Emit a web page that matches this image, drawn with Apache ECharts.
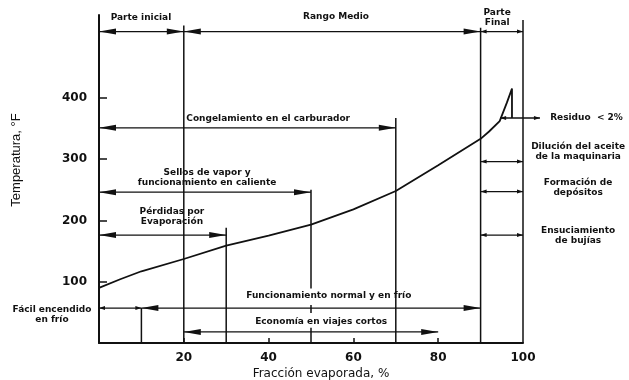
<!DOCTYPE html>
<html>
<head>
<meta charset="utf-8">
<script src="https://cdn.jsdelivr.net/npm/echarts@6/dist/echarts.min.js"></script>
<style>
  html, body { margin: 0; background: #fff; }
  #chart { width: 629px; height: 380px; }
</style>
</head>
<body>
<div id="chart"></div>
<script>
// curva de destilacion (fraccion evaporada %, temperatura F)
const fraccion = [0, 5, 10, 20, 30, 40, 50, 60, 70, 80, 90, 92, 94.5, 96.2, 97.4, 97.4];
const temperatura = [90, 104, 117, 137, 159, 175, 193, 218, 248, 290, 333, 345, 362, 392, 415, 367];

const xTicks = [20, 40, 60, 80];
const xTickLabels = [20, 40, 60, 80, 100];
const yTicks = [100, 200, 300, 400];

// flechas horizontales: desde %, hasta %, temperatura
const flechaDesde = [0, 20, 90, 0, 0, 0, 0, 10, 20, 90, 90, 90, 94.6];
const flechaHasta = [20, 90, 100, 70, 50, 30, 10, 90, 80, 100, 100, 100, 104];
const flechaTemp = [508, 508, 508, 351, 246, 176, 57, 57, 18, 296, 247, 176, 367];
const puntaGrande = [1, 1, 0, 1, 1, 1, 0, 1, 1, 0, 0, 0, 0];

// lineas verticales: %, desde temp, hasta temp
const verticalX = [20, 90, 100, 70, 50, 50, 50, 30, 10];
const verticalDesde = [0, 0, 0, 0, 89, 49, 0, 0, 0];
const verticalHasta = [518, 514, 527, 367, 250, 62, 25, 188, 57];

// textos de las zonas
const textos = [
  'Parte inicial',
  'Rango Medio',
  'Parte\nFinal',
  'Congelamiento en el carburador',
  'Sellos de vapor y\nfuncionamiento en caliente',
  'Pérdidas por\nEvaporación',
  'Funcionamiento normal y en frío',
  'Economía en viajes cortos',
  'Fácil encendido\nen frío',
  'Residuo  < 2%',
  'Dilución del aceite\nde la maquinaria',
  'Formación de\ndepósitos',
  'Ensuciamiento\nde bujías'
];
const textoX = [9.9, 55.9, 93.9, 39.9, 25.5, 17.2, 54.2, 52.4, -11.1, 106.4, 113, 113, 113];
const textoT = [531, 533, 531, 366, 269, 206, 77, 34, 47, 367, 312, 253, 175];

const INK = '#111';
const FONT = 'bold 9px "DejaVu Sans", sans-serif';

const chart = echarts.init(document.getElementById('chart'));

function renderFlecha(params, api) {
  const a = api.coord([api.value(0), api.value(2)]);
  const b = api.coord([api.value(1), api.value(2)]);
  const big = puntaGrande[params.dataIndex];
  const L = big ? 17 : 6, W = big ? 6 : 4;
  return {
    type: 'group',
    children: [
      { type: 'line', shape: { x1: a[0], y1: a[1], x2: b[0], y2: b[1] }, style: { stroke: INK, lineWidth: 1.3 } },
      { type: 'polygon', shape: { points: [[a[0], a[1]], [a[0] + L, a[1] - W / 2], [a[0] + L, a[1] + W / 2]] }, style: { fill: INK } },
      { type: 'polygon', shape: { points: [[b[0], b[1]], [b[0] - L, b[1] - W / 2], [b[0] - L, b[1] + W / 2]] }, style: { fill: INK } }
    ]
  };
}

function renderVertical(params, api) {
  const a = api.coord([api.value(0), api.value(1)]);
  const b = api.coord([api.value(0), api.value(2)]);
  return { type: 'line', shape: { x1: a[0], y1: a[1], x2: b[0], y2: b[1] }, style: { stroke: INK, lineWidth: 1.5 } };
}

function renderTexto(params, api) {
  const p = api.coord([api.value(0), api.value(1)]);
  const i = params.dataIndex;
  const al = i === 9 ? 'left' : 'center';
  return {
    type: 'text',
    x: p[0], y: p[1],
    style: {
      text: textos[i], fill: INK, font: FONT, lineHeight: 10,
      align: al, textAlign: al, verticalAlign: 'middle', textVerticalAlign: 'middle'
    }
  };
}

chart.setOption({
  backgroundColor: '#fff',
  animation: false,
  grid: { left: 99, right: 106, top: 15, bottom: 37, containLabel: false },
  xAxis: {
    type: 'value', min: 0, max: 100, interval: 20,
    axisLine: { show: true, lineStyle: { color: INK, width: 2 } },
    axisTick: { show: true, inside: true, length: 5, customValues: xTicks, lineStyle: { color: INK, width: 1.5 } },
    axisLabel: { customValues: xTickLabels, color: INK, fontSize: 12, fontWeight: 'bold', fontFamily: 'DejaVu Sans', margin: 9 },
    splitLine: { show: false }
  },
  yAxis: {
    type: 'value', min: 0, max: 535, interval: 100,
    axisLine: { show: true, lineStyle: { color: INK, width: 2 } },
    axisTick: { show: true, inside: true, length: 8, customValues: yTicks, lineStyle: { color: INK, width: 1.5 } },
    axisLabel: { customValues: yTicks, color: INK, fontSize: 12, fontWeight: 'bold', fontFamily: 'DejaVu Sans', margin: 12 },
    splitLine: { show: false }
  },
  graphic: [
    {
      type: 'text', x: 16, y: 160, rotation: Math.PI / 2,
      style: { text: 'Temperatura, °F', fill: INK, font: '13px "Liberation Sans Narrow", "Liberation Sans", sans-serif', align: 'center', verticalAlign: 'middle' }
    },
    {
      type: 'text', x: 321, y: 374,
      style: { text: 'Fracción evaporada, %', fill: INK, font: '12px "DejaVu Sans", sans-serif', align: 'center', verticalAlign: 'middle' }
    }
  ],
  series: [
    {
      type: 'line',
      data: fraccion.map((x, i) => [x, temperatura[i]]),
      showSymbol: false,
      lineStyle: { color: INK, width: 1.8 },
      z: 5
    },
    {
      type: 'custom', clip: false,
      data: verticalX.map((x, i) => [x, verticalDesde[i], verticalHasta[i]]),
      encode: { x: 0, y: [1, 2] },
      renderItem: renderVertical
    },
    {
      type: 'custom', clip: false,
      data: flechaDesde.map((x, i) => [x, flechaHasta[i], flechaTemp[i]]),
      encode: { x: [0, 1], y: 2 },
      renderItem: renderFlecha
    },
    {
      type: 'custom', clip: false,
      data: textoX.map((x, i) => [x, textoT[i]]),
      encode: { x: 0, y: 1 },
      renderItem: renderTexto
    }
  ]
});
</script>
</body>
</html>
